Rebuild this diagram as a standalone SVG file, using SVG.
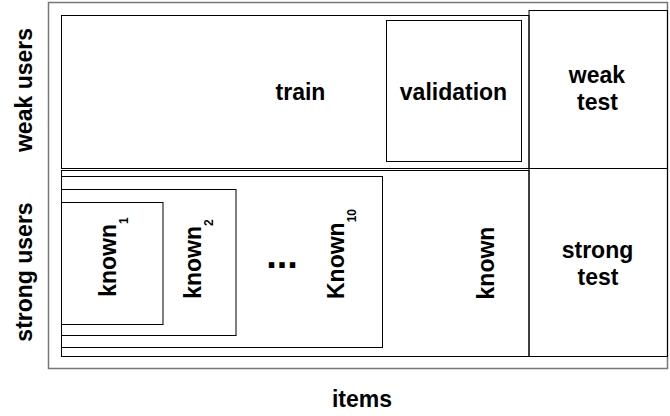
<svg xmlns="http://www.w3.org/2000/svg" width="670" height="416" viewBox="0 0 670 416">
<style>
.box{fill:none;stroke:#000;stroke-width:1}
.frame{fill:none;stroke:#777;stroke-width:1.5}
.t{font-family:"Liberation Sans",Arial,sans-serif;font-weight:bold;font-size:23px;fill:#000;text-anchor:middle}
.sub{font-size:12px}
</style>
<rect width="670" height="416" fill="#fff"/>
<g id="frame"><rect class="frame" x="48.5" y="2.5" width="619" height="366"/></g>
<g id="train"><rect class="box" x="61.5" y="15.5" width="467.5" height="153"/><text class="t" x="300.5" y="100">train</text></g>
<g id="validation"><rect class="box" x="386.5" y="20.5" width="135" height="141" stroke="#222"/><text class="t" x="453.5" y="99.5">validation</text></g>
<g id="weak-test"><rect class="box" x="529" y="10.5" width="138.5" height="158"/><text class="t" x="597" y="83">weak</text><text class="t" x="597.5" y="110">test</text></g>
<g id="known"><rect class="box" x="61.5" y="170.5" width="467.5" height="186"/><text class="t" transform="translate(494,263) rotate(-90)">known</text></g>
<g id="strong-test"><rect class="box" x="529" y="168.5" width="138.5" height="188"/><text class="t" x="597.5" y="258">strong</text><text class="t" x="598" y="285">test</text></g>
<g id="known10"><rect class="box" x="61.5" y="176.5" width="321" height="171"/><text class="t" transform="translate(344,254) rotate(-90)">Known<tspan class="sub" dy="12">10</tspan></text></g>
<g id="known2"><rect class="box" x="61.5" y="189.5" width="174.5" height="146"/><text class="t" transform="translate(201,259) rotate(-90)">known<tspan class="sub" dy="12">2</tspan></text></g>
<g id="known1"><rect class="box" x="61.5" y="202.5" width="101.5" height="122"/><text class="t" transform="translate(116,257) rotate(-90)">known<tspan class="sub" dy="12">1</tspan></text></g>
<g id="ellipsis"><text class="t" x="282" y="268" style="font-size:38px">...</text></g>
<g id="labels">
<text class="t" transform="translate(32,90) rotate(-90)">weak users</text>
<text class="t" transform="translate(32,272) rotate(-90)">strong users</text>
<text class="t" x="362" y="407">items</text>
</g>
<g id="connectors"/>
</svg>
